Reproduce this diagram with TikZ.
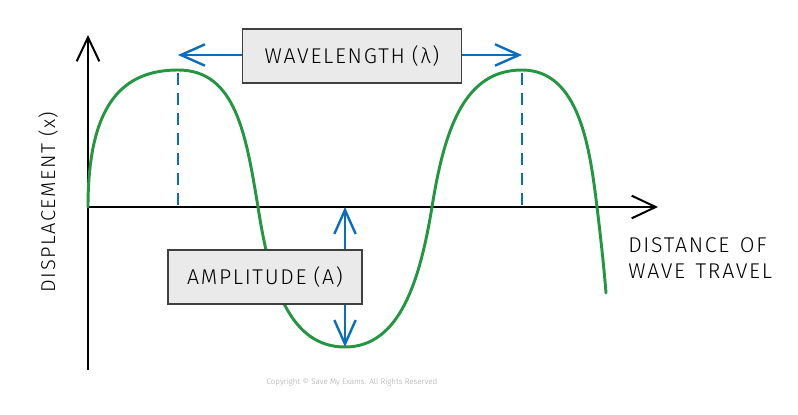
\documentclass[tikz,border=0pt]{standalone}
\usepackage{fontspec}
\setmainfont{Fira Sans Light}[LetterSpace=8]
\usetikzlibrary{arrows.meta,positioning}
\definecolor{wavegreen}{RGB}{34,150,64}
\definecolor{markblue}{RGB}{10,110,190}
\definecolor{boxgrey}{RGB}{234,234,234}
\tikzset{
  axis/.style={line width=1.5pt,-{Straight Barb[length=18pt,width=17pt,line width=1.5pt]}},
  measure/.style={line width=1.8pt,markblue,{Straight Barb[length=18pt,width=16pt,line width=1.8pt]}-{Straight Barb[length=18pt,width=16pt,line width=1.8pt]}},
  peakline/.style={line width=1.5pt,markblue,dash pattern=on 9pt off 6pt},
  labelbox/.style={draw=black!75,line width=0.8pt,fill=boxgrey,minimum height=40.5pt,inner sep=0pt,font=\fontsize{16}{19}\selectfont},
}
\begin{document}
\begin{tikzpicture}[x=0.75pt,y=-0.75pt,every node/.style={font=\fontsize{16}{19}\selectfont}]
\useasboundingbox (0,0) rectangle (798,414);
\coordinate (o) at (88,207);
\coordinate (ytop) at (88,35);
\coordinate (ybot) at (88,370);
\coordinate (xend) at (658,207);
\coordinate (p1) at (178,70);
\coordinate (p2) at (522,70);
\coordinate (t1) at (345,347);
\coordinate (a1) at (345,207);
\coordinate (d1) at (178,207);
\coordinate (d2) at (522,207);
% axes
\draw[axis] (ybot)--(ytop);
\draw[axis] (o)--(xend);
% wave
\draw[wavegreen,line width=2.2pt,line cap=round] (o)
  .. controls (88,105) and (122,70) .. (p1)
  .. controls (236,70) and (246,135) .. (258,207)
  .. controls (270,285) and (290,347) .. (t1)
  .. controls (400,347) and (420,280) .. (432,207)
  .. controls (445,125) and (466,70) .. (p2)
  .. controls (580,70) and (590,150) .. (597,207)
  .. controls (601,240) and (604,268) .. (606,293);
% peaks and arrows
\draw[peakline] ([yshift=-2pt]p1)--(d1);
\draw[peakline] ([yshift=-2pt]p2)--(d2);
\draw[measure] ([yshift=11.25pt]p1)--([yshift=11.25pt]p2);
\draw[measure] (a1)--(t1);
\node[labelbox,minimum width=164pt] (wl) at (352,56) {WAVELENGTH\,\,(λ)};
\node[labelbox,minimum width=145.5pt] (amp) at (265,277) {AMPLITUDE\,\,(A)};
% labels
\node[rotate=90,font=\fontsize{15}{18}\selectfont] (ylab) at (48,202) {DISPLACEMENT\,\,(x)};
\node[anchor=west,align=left,inner sep=0pt] (xlab) at (628,258) {DISTANCE\,\,\,OF\\WAVE\,\,\,TRAVEL};
\node[text=black!35,font=\fontsize{6}{7}\selectfont\addfontfeatures{LetterSpace=0}] (copy) at (352,382) {Copyright © Save My Exams. All Rights Reserved};
\end{tikzpicture}
\end{document}
